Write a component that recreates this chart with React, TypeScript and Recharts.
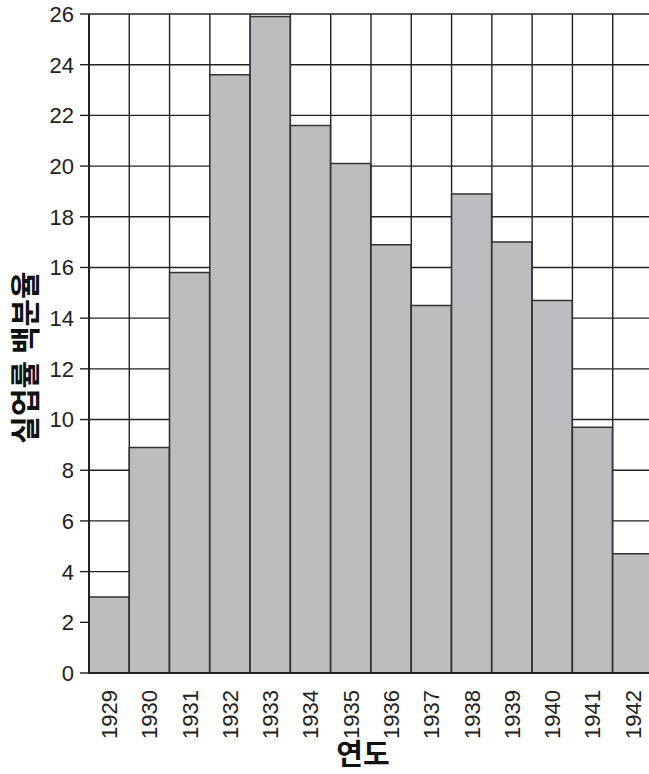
import { BarChart, Bar, XAxis, YAxis, CartesianGrid } from 'recharts'

const years = ['1929', '1930', '1931', '1932', '1933', '1934', '1935', '1936', '1937', '1938', '1939', '1940', '1941', '1942']
const rates = [3.0, 8.9, 15.8, 23.6, 25.9, 21.6, 20.1, 16.9, 14.5, 18.9, 17.0, 14.7, 9.7, 4.7]
const yTicks = [0, 2, 4, 6, 8, 10, 12, 14, 16, 18, 20, 22, 24, 26]

const data = years.map((year, i) => ({ year, rate: rates[i] }))

const FONT = '"Liberation Sans", Arial, sans-serif'
const KFONT = '"Noto Sans CJK KR", "Noto Sans", sans-serif'

// rotated year labels, reading bottom to top
const XTick = ({ x, y, payload }: any) => (
  <text
    x={x}
    y={y + 9}
    transform={`rotate(-90, ${x}, ${y + 9})`}
    textAnchor="end"
    dy="0.36em"
    fontSize={22}
    fontFamily={FONT}
    fill="#222"
  >
    {payload.value}
  </text>
)

const YTick = ({ x, y, payload }: any) => (
  <text x={x - 4} y={y} textAnchor="end" dy="0.36em" fontSize={22} fontFamily={FONT} fill="#222">
    {payload.value}
  </text>
)

export default function App() {
  return (
    <div style={{ width: 649, height: 774, overflow: 'hidden' }}>
      <style>{'body { margin: 0; }'}</style>
      <BarChart
        width={660}
        height={774}
        data={data}
        barCategoryGap={0}
        margin={{ top: 14, right: 7, left: 0, bottom: 0 }}
      >
        <CartesianGrid
          stroke="#222"
          strokeWidth={1.4}
          verticalCoordinatesGenerator={({ offset }: any) =>
            years.concat('').map((_, i) => offset.left + (i * offset.width) / years.length)
          }
        />
        <XAxis
          dataKey="year"
          interval={0}
          height={101}
          tickLine={false}
          axisLine={{ stroke: '#222', strokeWidth: 2 }}
          tick={<XTick />}
          label={({ viewBox }: any) => (
            <text
              x={viewBox.x + viewBox.width / 2 - 8}
              y={765}
              textAnchor="middle"
              fontSize={29}
              fontWeight="bold"
              fontFamily={KFONT}
              fill="#111"
            >
              연도
            </text>
          )}
        />
        <YAxis
          width={89}
          domain={[0, 26]}
          ticks={yTicks}
          interval={0}
          tickSize={9}
          tickLine={{ stroke: '#222', strokeWidth: 1.4 }}
          axisLine={{ stroke: '#222', strokeWidth: 2 }}
          tick={<YTick />}
          label={({ viewBox }: any) => {
            const cx = 23
            const cy = viewBox.y + viewBox.height / 2 + 14
            return (
              <text
                x={cx}
                y={cy}
                transform={`rotate(-90, ${cx}, ${cy})`}
                textAnchor="middle"
                dominantBaseline="central"
                fontSize={30}
                fontWeight="bold"
                fontFamily={KFONT}
                fill="#111"
              >
                실업률 백분율
              </text>
            )
          }}
        />
        <Bar dataKey="rate" fill="#bcbdc1" stroke="#333" strokeWidth={1.5} isAnimationActive={false} />
      </BarChart>
    </div>
  )
}
